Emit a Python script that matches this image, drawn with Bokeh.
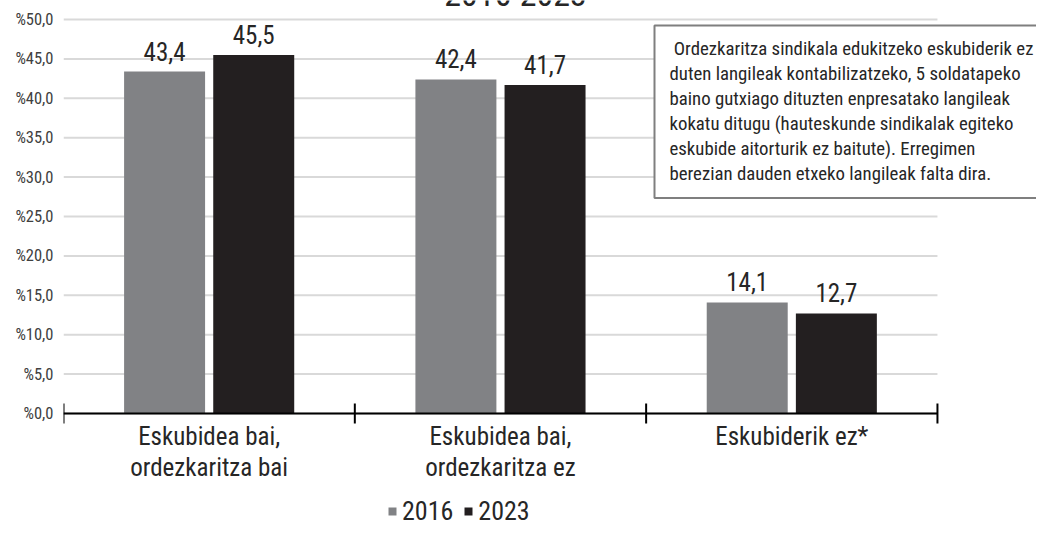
import math
from bokeh.plotting import figure
from bokeh.models import Label, Legend, LegendItem, FixedTicker, ColumnDataSource, Range1d
from bokeh.core.properties import value
from bokeh.embed import file_html
from bokeh.resources import INLINE

# ---- data ----
categories = ["Eskubidea bai,\nordezkaritza bai", "Eskubidea bai,\nordezkaritza ez", "Eskubiderik ez*"]
series_names = ["2016", "2023"]
values_2016 = [43.4, 42.4, 14.1]
values_2023 = [45.5, 41.7, 12.7]
y_ticks = [0, 5, 10, 15, 20, 25, 30, 35, 40, 45, 50]
y_tick_labels = ["%0,0", "%5,0", "%10,0", "%15,0", "%20,0", "%25,0", "%30,0", "%35,0", "%40,0", "%45,0", "%50,0"]
title_text = "2016-2023"
note_lines = [
    "\u00a0Ordezkaritza sindikala edukitzeko eskubiderik ez",
    "duten langileak kontabilizatzeko, 5 soldatapeko",
    "baino gutxiago dituzten enpresatako langileak",
    "kokatu ditugu (hauteskunde sindikalak egiteko",
    "eskubide aitorturik ez baitute). Erregimen",
    "berezian dauden etxeko langileak falta dira.",
]

FONT = "Roboto Condensed"
GRAY = "#818285"
BLACK = "#231f20"
TXT = "#262626"

W, H = 1036, 529
n = len(categories)
p = figure(width=W, height=H, output_backend="svg", toolbar_location=None, title=None,
           x_range=Range1d(0, 3.34), y_range=Range1d(-14.72, 52.41), x_axis_location=None,
           min_border_left=63, min_border_right=0, min_border_top=0, min_border_bottom=0)
p.outline_line_color = None
p.background_fill_color = "white"
p.border_fill_color = "white"
p.xgrid.visible = False
p.ygrid.visible = False

# horizontal gridlines over the category area
p.segment(x0=[0] * len(y_ticks), x1=[n] * len(y_ticks), y0=y_ticks, y1=y_ticks,
          line_color="#d9d9d9", line_width=2)

centers = [i + 0.5 for i in range(n)]
off = 0.153
bw = 0.278
src16 = ColumnDataSource(dict(x=[c - off for c in centers], top=values_2016,
                              lab=[f"{v:.1f}".replace(".", ",") for v in values_2016]))
src23 = ColumnDataSource(dict(x=[c + off for c in centers], top=values_2023,
                              lab=[f"{v:.1f}".replace(".", ",") for v in values_2023]))

r16 = p.vbar(x="x", top="top", width=bw, source=src16, fill_color=GRAY, line_color=None)
r23 = p.vbar(x="x", top="top", width=bw, source=src23, fill_color=BLACK, line_color=None)

for s in (src16, src23):
    p.text(x="x", y="top", text="lab", source=s, text_align="center", text_baseline="bottom",
           y_offset=-11, text_font=value(FONT), text_font_size="25px", text_color=TXT)

# category axis: line, boundary ticks, labels
p.segment(x0=[0], x1=[n], y0=[0], y1=[0], line_color="black", line_width=2)
p.scatter(x=list(range(n + 1)), y=[0] * (n + 1), marker="dash", angle=math.pi / 2, size=20,
          line_color="black", line_width=2)
p.text(x=centers, y=[0] * n, text=categories, text_align="center", text_baseline="top",
       y_offset=8, text_font=value(FONT), text_font_size="25px", text_color=TXT,
       text_line_height=1.08)

# y axis
ya = p.yaxis[0]
ya.ticker = FixedTicker(ticks=y_ticks, minor_ticks=[])
ya.major_label_overrides = {t: l for t, l in zip(y_ticks, y_tick_labels)}
ya.axis_line_color = None
ya.major_tick_line_color = None
ya.major_tick_out = 0
ya.major_tick_in = 0
ya.minor_tick_line_color = None
ya.major_label_standoff = 10
ya.major_label_text_font = FONT
ya.major_label_text_font_size = "16.5px"
ya.major_label_text_color = "#404040"

# legend
legend = Legend(items=[LegendItem(label=series_names[0], renderers=[r16]),
                       LegendItem(label=series_names[1], renderers=[r23])],
                orientation="horizontal", location=(324, 3),
                glyph_width=10, glyph_height=10, label_standoff=5, spacing=10,
                padding=0, margin=0, border_line_color=None, background_fill_alpha=0,
                label_text_font=FONT, label_text_font_size="26px", label_text_color=TXT,
                label_height=24)
p.add_layout(legend, "center")

# note box
note = Label(x=591, y=504, x_units="screen", y_units="screen", text="\n".join(note_lines),
             text_align="left", text_baseline="top", text_font=FONT, text_font_size="18.8px",
             text_color=TXT, text_line_height=1.14,
             border_line_color="#7f7f7f", border_line_width=2, background_fill_color="white",
             padding=dict(left=15, right=28, top=12, bottom=13))
p.add_layout(note)

# title (cropped at top in reference)
title = Label(x=452, y=524, x_units="screen", y_units="screen", text=title_text,
              text_align="center", text_baseline="bottom", text_font=FONT,
              text_font_size="34px", text_color=TXT)
p.add_layout(title)

open("out.html", "w").write(file_html(p, INLINE))
